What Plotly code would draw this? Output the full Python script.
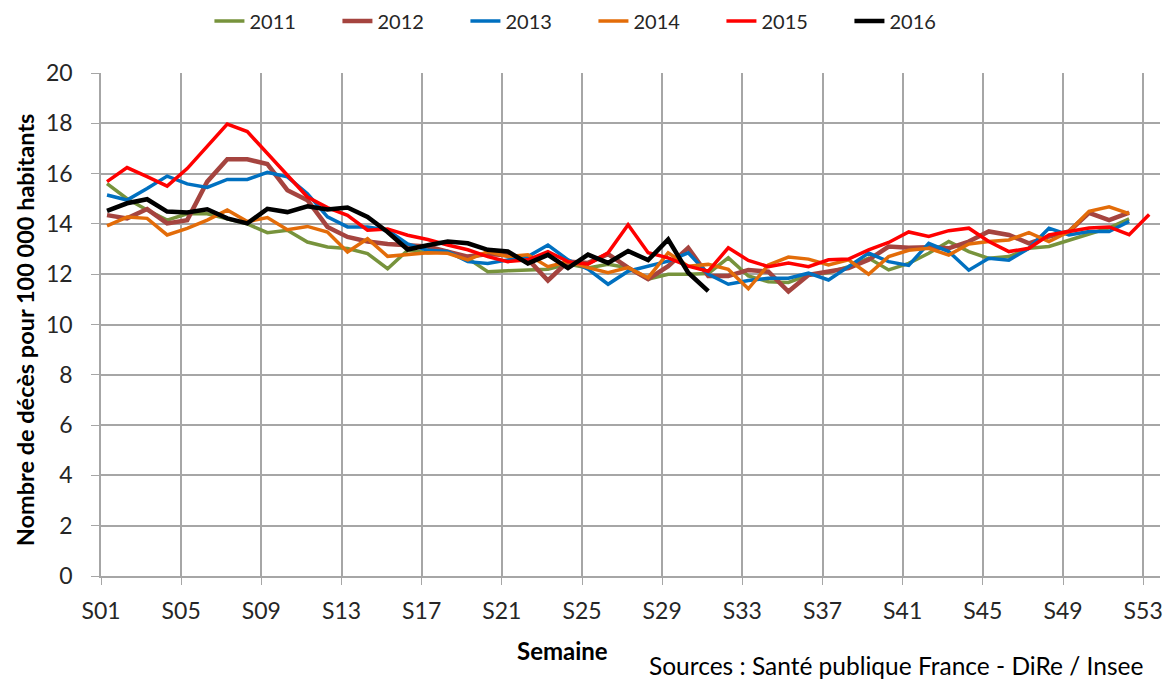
import plotly.graph_objects as go

# Weekly deaths per 100 000 inhabitants, France
weeks = list(range(1, 54))
week_ticks = list(range(1, 54, 4))
tick_labels = ["S%02d" % w for w in week_ticks]

y2011 = [15.6, 15.0, 14.55, 14.15, 14.4, 14.4, 14.2, 14.0, 13.65, 13.75, 13.28, 13.08, 13.02,
         12.82, 12.22, 12.95, 12.85, 12.9, 12.63, 12.1, 12.14, 12.17, 12.2, 12.4, 12.25, 12.39,
         12.26, 11.8, 12.0, 12.0, 12.03, 12.65, 11.93, 11.7, 11.67, 11.97, 12.07, 12.3, 12.64,
         12.17, 12.43, 12.83, 13.3, 12.9, 12.63, 12.7, 13.03, 13.1, 13.36, 13.6, 13.84, 14.2]
y2012 = [14.35, 14.22, 14.59, 14.02, 14.15, 15.68, 16.57, 16.57, 16.38, 15.34, 14.94, 13.88, 13.48,
         13.3, 13.2, 13.17, 13.1, 12.9, 12.7, 12.8, 12.75, 12.6, 11.75, 12.5, 12.45, 12.8,
         12.26, 11.8, 12.32, 13.05, 11.93, 11.93, 12.17, 12.1, 11.31, 11.97, 12.1, 12.24, 12.57,
         13.1, 13.05, 13.07, 13.03, 13.3, 13.7, 13.56, 13.23, 13.5, 13.7, 14.44, 14.15, 14.45]
y2013 = [15.15, 14.95, 15.41, 15.9, 15.59, 15.45, 15.77, 15.77, 16.05, 15.87, 15.2, 14.28, 13.88,
         13.88, 13.75, 13.2, 12.95, 12.9, 12.5, 12.43, 12.57, 12.7, 13.16, 12.57, 12.2, 11.6,
         12.12, 12.32, 12.52, 12.85, 12.0, 11.6, 11.75, 11.84, 11.84, 12.04, 11.77, 12.3, 12.84,
         12.5, 12.35, 13.23, 12.9, 12.16, 12.63, 12.56, 13.03, 13.83, 13.56, 13.7, 13.7, 14.1]
y2014 = [13.92, 14.27, 14.22, 13.56, 13.82, 14.15, 14.55, 14.09, 14.25, 13.77, 13.9, 13.68, 12.88,
         13.41, 12.71, 12.79, 12.85, 12.83, 12.57, 12.9, 12.7, 12.77, 12.3, 12.5, 12.26, 12.06,
         12.26, 11.86, 12.85, 12.32, 12.39, 12.19, 11.42, 12.37, 12.68, 12.6, 12.37, 12.57, 12.0,
         12.7, 12.95, 13.03, 12.76, 13.2, 13.3, 13.36, 13.65, 13.3, 13.7, 14.5, 14.68, 14.41]
y2015 = [15.68, 16.24, 15.88, 15.5, 16.2, 17.07, 17.97, 17.67, 16.8, 15.93, 15.07, 14.65, 14.34,
         13.75, 13.8, 13.55, 13.38, 13.16, 12.97, 12.7, 12.5, 12.57, 12.9, 12.5, 12.4, 12.85,
         13.97, 12.85, 12.65, 12.32, 12.12, 13.05, 12.55, 12.3, 12.44, 12.3, 12.57, 12.6, 12.97,
         13.26, 13.68, 13.5, 13.73, 13.83, 13.3, 12.9, 13.03, 13.56, 13.7, 13.84, 13.88, 13.57, 14.37]
y2016 = [14.52, 14.82, 14.98, 14.49, 14.45, 14.58, 14.22, 14.02, 14.6, 14.47, 14.7, 14.57, 14.65,
         14.28, 13.68, 12.98, 13.15, 13.3, 13.23, 12.97, 12.9, 12.43, 12.77, 12.24, 12.78, 12.45,
         12.92, 12.56, 13.38, 12.06, 11.33]

series = [
    ("2011", y2011, "#77933C", 3.5),
    ("2012", y2012, "#A5443F", 4.5),
    ("2013", y2013, "#0070C0", 3.5),
    ("2014", y2014, "#E36C09", 3.5),
    ("2015", y2015, "#FF0000", 3.5),
    ("2016", y2016, "#000000", 4.5),
]

FONT = "Lato, Arial, sans-serif"
GRID = "#A6A6A6"

fig = go.Figure()
for name, vals, color, width in series:
    fig.add_trace(go.Scatter(
        x=weeks[:len(vals)], y=vals, mode="lines", name=name,
        line=dict(color=color, width=width),
    ))

# the points sit a little right of the week gridlines in the original
shift = 0.3
fig.update_xaxes(
    range=[1 - shift, 53.84 - shift],
    tickmode="array",
    tickvals=[w - shift for w in week_ticks],
    ticktext=tick_labels,
    showgrid=True, gridcolor=GRID, gridwidth=1.5,
    showline=True, linecolor=GRID, linewidth=1.5,
    ticks="outside", ticklen=7, tickcolor=GRID,
    ticklabelstandoff=7,
    tickfont=dict(family=FONT, size=23, color="#262626"),
    zeroline=False, automargin=False,
)
fig.update_yaxes(
    range=[0, 20], dtick=2,
    showgrid=True, gridcolor=GRID, gridwidth=1.5,
    showline=True, linecolor=GRID, linewidth=1.5,
    ticks="outside", ticklen=8, tickcolor=GRID,
    ticklabelstandoff=14,
    tickfont=dict(family=FONT, size=23, color="#262626"),
    zeroline=False, automargin=False,
)

fig.add_annotation(
    text="<b>Semaine</b>", xref="paper", yref="paper", x=0.436, y=-0.149,
    xanchor="center", yanchor="middle", showarrow=False,
    font=dict(family=FONT, size=24, color="#000"),
)
fig.add_annotation(
    text="<b>Nombre de décès pour 100 000 habitants</b>", xref="paper", yref="paper",
    x=-0.072, y=0.49, xanchor="center", yanchor="middle", textangle=-90, showarrow=False,
    font=dict(family=FONT, size=23.5, color="#000"),
)
fig.add_annotation(
    text="Sources : Santé publique France - DiRe / Insee",
    xref="paper", yref="paper", x=0.986, y=-0.177, xanchor="right", yanchor="middle",
    showarrow=False, font=dict(family=FONT, size=24.5, color="#000"),
)

fig.update_layout(
    width=1173, height=679,
    margin=dict(l=101, r=13, t=73, b=103),
    paper_bgcolor="white", plot_bgcolor="white",
    showlegend=True,
    legend=dict(
        orientation="h", x=0.465, xanchor="center",
        yref="container", y=0.969, yanchor="middle",
        font=dict(family=FONT, size=20, color="#262626"),
        entrywidth=83, entrywidthmode="pixels",
    ),
)

# the page's default body margin would shift the whole figure
fig.write_html("out.html", config={"displayModeBar": False},
               post_script="document.body.style.margin='0';")
